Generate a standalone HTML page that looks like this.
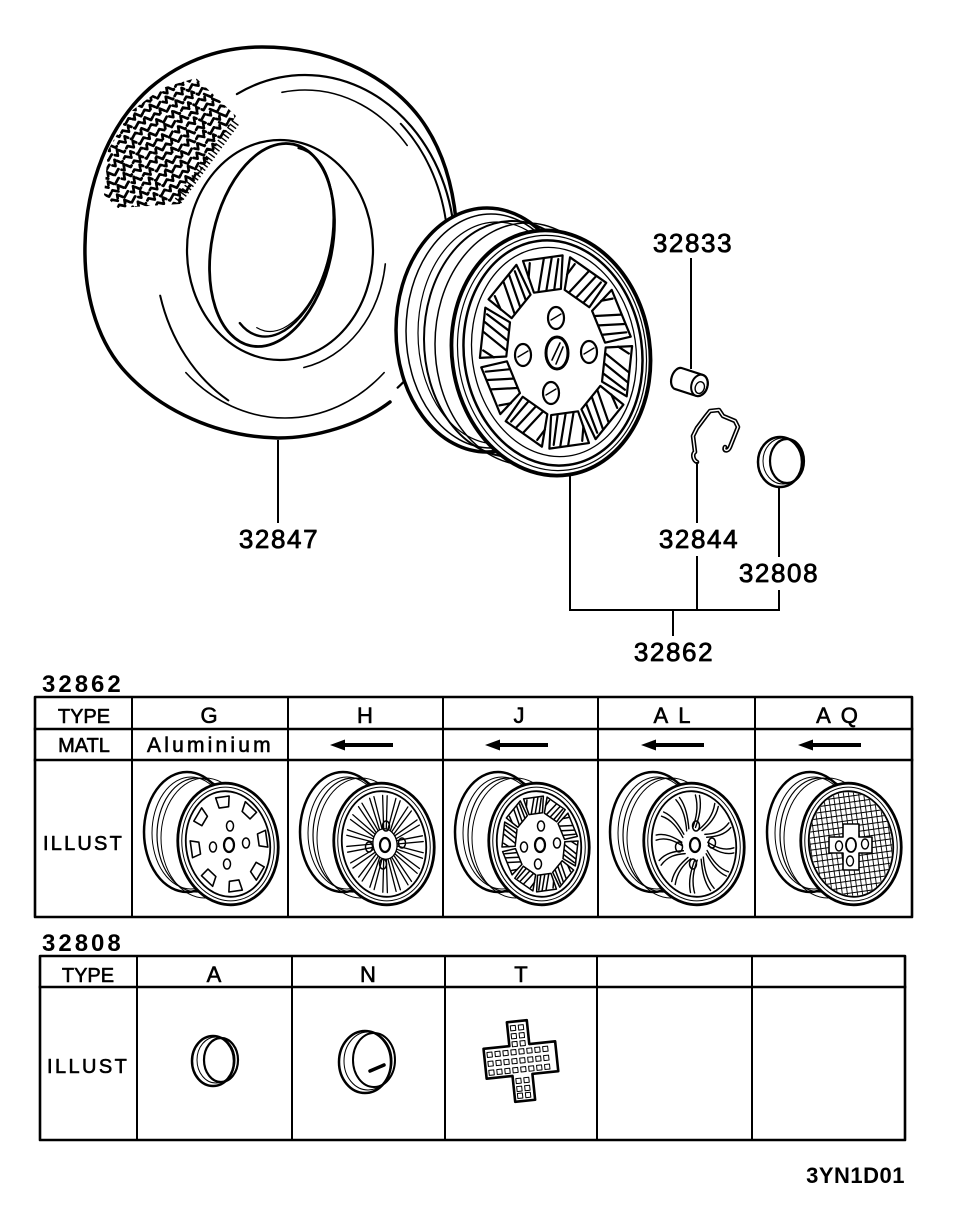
<!DOCTYPE html>
<html><head><meta charset="utf-8"><style>
html,body{margin:0;padding:0;background:#fff;}
svg{display:block;}
svg path,svg ellipse,svg line,svg rect{vector-effect:non-scaling-stroke;}
.t{font-family:"Liberation Sans",sans-serif;fill:#000;stroke:none;}
.n{font-size:26px;letter-spacing:1.6px;stroke:#000;stroke-width:0.8px;}
.tb{stroke:#000;stroke-width:0.6px;}
</style></head><body>
<svg width="960" height="1210" viewBox="0 0 960 1210" xmlns="http://www.w3.org/2000/svg" fill="none" stroke="#000" stroke-linecap="round" stroke-linejoin="round">
<defs>
  <path id="zz" d="M-100,0 l6,-4 l5,4 l2,-6 l5,6 l6,-4 l5,4 l2,-6 l5,6 l6,-4 l5,4 l2,-6 l5,6 l6,-4 l5,4 l2,-6 l5,6 l6,-4 l5,4 l2,-6 l5,6 l6,-4 l5,4 l2,-6 l5,6 l6,-4 l5,4 l2,-6 l5,6 l6,-4 l5,4 l2,-6 l5,6 l6,-4 l5,4 l2,-6 l5,6 l6,-4 l5,4 l2,-6 l5,6"/>
  <clipPath id="tread"><polygon points="104,195 108,150 130,112 162,88 196,78 236,116 180,204 118,208"/></clipPath>
  <g id="win"><path d="M-17,-60 L17,-60 L25,-92 L-25,-92 Z"/><path d="M-11,-61 L1,-91 M-1,-61 L11,-91 M9,-61 L19,-89 M-21,-75 L-17,-89"/></g>
  <g id="win10">
    <use href="#win"/><use href="#win" transform="rotate(36)"/><use href="#win" transform="rotate(72)"/><use href="#win" transform="rotate(108)"/><use href="#win" transform="rotate(144)"/><use href="#win" transform="rotate(180)"/><use href="#win" transform="rotate(216)"/><use href="#win" transform="rotate(252)"/><use href="#win" transform="rotate(288)"/><use href="#win" transform="rotate(324)"/>
  </g>
  <g id="twbase">
    <ellipse cx="55" cy="72" rx="43" ry="60" fill="#fff" stroke-width="2.5"/>
    <ellipse cx="59" cy="73" rx="39" ry="56" stroke-width="1"/>
    <ellipse cx="65" cy="75" rx="40" ry="57" stroke-width="1.2"/>
    <ellipse cx="73" cy="78" rx="44" ry="60" stroke-width="1"/>
    <ellipse cx="96" cy="84" rx="50" ry="61" transform="rotate(-8 96 84)" fill="#fff" stroke-width="2.8"/>
    <ellipse cx="96" cy="84" rx="46" ry="57" transform="rotate(-8 96 84)" stroke-width="1"/>
    <ellipse cx="96" cy="84" rx="42" ry="53" transform="rotate(-8 96 84)" stroke-width="1.8"/>
  </g>
  <g id="lugs">
    <ellipse cx="97" cy="85" rx="5" ry="7" stroke-width="2.2"/>
    <ellipse cx="98" cy="66" rx="3.5" ry="5" stroke-width="1.5"/>
    <ellipse cx="81" cy="87" rx="3.5" ry="5" stroke-width="1.5"/>
    <ellipse cx="114" cy="83" rx="3.5" ry="5" stroke-width="1.5"/>
    <ellipse cx="95" cy="104" rx="3.5" ry="5" stroke-width="1.5"/>
  </g>
  <g id="gw"><path d="M-12,-74 L12,-74 L17,-95 L-17,-95 Z"/></g>
  <g id="hs"><path d="M-2,-30 L-11,-95 M2,-30 L11,-95"/></g>
  <g id="als"><path d="M0,-32 C12,-50 22,-70 18,-95 M7,-32 C19,-50 30,-70 28,-93"/></g>
  <pattern id="grid" width="5" height="6" patternUnits="userSpaceOnUse"><path d="M0.5,0 V6 M0,0.5 H5" stroke="#000" stroke-width="0.9"/></pattern>
</defs>

<!-- ================= TIRE ================= -->
<g>
  <path d="M390,402 C360,425 315,438 278,438 C220,437 160,412 122,368 C95,336 84,290 85,245 C86,185 108,125 150,88 C185,58 225,47 262,47 C325,47 385,72 420,118 C440,145 452,180 456,220 L458,262" stroke-width="3.5"/>
  <ellipse cx="305" cy="250" rx="150" ry="175" pathLength="100" stroke-dasharray="47 53" stroke-dashoffset="32" stroke-width="2.2"/>
  <ellipse cx="305" cy="250" rx="150" ry="175" pathLength="100" stroke-dasharray="12.5 87.5" stroke-dashoffset="67" stroke-width="2"/>
  <ellipse cx="305" cy="250" rx="143" ry="170" pathLength="100" stroke-dasharray="11 89" stroke-dashoffset="14" stroke-width="2"/>
  <ellipse cx="305" cy="250" rx="135" ry="160" pathLength="100" stroke-dasharray="15.5 84.5" stroke-dashoffset="27.5" stroke-width="1.6"/>
  <ellipse cx="285" cy="250" rx="145" ry="168" pathLength="100" stroke-dasharray="22.8 77.2" stroke-dashoffset="86.4" stroke-width="1.6"/>
  <ellipse cx="280" cy="250" rx="93" ry="110" stroke-width="2.2"/>
  <ellipse cx="283" cy="250" rx="103" ry="120" pathLength="100" stroke-dasharray="20 80" stroke-dashoffset="98" stroke-width="1.6"/>
  <ellipse cx="272" cy="245" rx="60" ry="103" transform="rotate(12 272 245)" stroke-width="2.8"/>
  <ellipse cx="279" cy="242" rx="52" ry="96" transform="rotate(12 279 242)" pathLength="100" stroke-dasharray="55 45" stroke-dashoffset="25" stroke-width="2.4"/>
  <ellipse cx="284" cy="241" rx="47" ry="92" transform="rotate(12 284 241)" pathLength="100" stroke-dasharray="50 50" stroke-dashoffset="23" stroke-width="1.2"/>
  <g clip-path="url(#tread)">
    <g transform="translate(170,145) rotate(-28)" stroke-width="2.7" stroke-dasharray="10 2 7 3">
      <use href="#zz" transform="translate(0,-63)"/>
      <use href="#zz" transform="translate(-4,-55)"/>
      <use href="#zz" transform="translate(3,-47)"/>
      <use href="#zz" transform="translate(-2,-39)"/>
      <use href="#zz" transform="translate(5,-31)"/>
      <use href="#zz" transform="translate(-3,-23)"/>
      <use href="#zz" transform="translate(2,-15)"/>
      <use href="#zz" transform="translate(-5,-7)"/>
      <use href="#zz" transform="translate(1,1)"/>
      <use href="#zz" transform="translate(-3,9)"/>
      <use href="#zz" transform="translate(4,17)"/>
      <use href="#zz" transform="translate(-1,25)"/>
      <use href="#zz" transform="translate(3,33)"/>
      <use href="#zz" transform="translate(-4,41)"/>
      <use href="#zz" transform="translate(2,49)"/>
      <use href="#zz" transform="translate(-2,57)"/>
    </g>
  </g>
  <line x1="178" y1="201" x2="236" y2="122" stroke-width="8" stroke-dasharray="1.4 2.6" stroke-linecap="butt"/>
</g>

<!-- ================= MAIN WHEEL ================= -->
<g>
  <ellipse cx="487" cy="330" rx="91" ry="122" fill="#fff" stroke-width="3.5"/>
  <ellipse cx="491" cy="331" rx="85" ry="117" stroke-width="1.5"/>
  <ellipse cx="497" cy="333" rx="79" ry="111" stroke-width="1.2"/>
  <ellipse cx="512" cy="339" rx="88" ry="118" stroke-width="2"/>
  <ellipse cx="527" cy="344" rx="92" ry="121" stroke-width="1.5"/>
  <ellipse cx="551" cy="353" rx="99" ry="123" transform="rotate(-8 551 353)" fill="#fff" stroke-width="3.8"/>
  <ellipse cx="552" cy="353" rx="94" ry="118" transform="rotate(-8 552 353)" stroke-width="1.2"/>
  <ellipse cx="553" cy="353" rx="89" ry="113" transform="rotate(-8 553 353)" stroke-width="2.5"/>
  <ellipse cx="554" cy="352" rx="82" ry="105" transform="rotate(-8 554 352)" stroke-width="1.3"/>
  <g transform="translate(556,352) rotate(-8) scale(0.8,1.03)" stroke-width="2.2">
    <use href="#win10"/>
  </g>
  <ellipse cx="557" cy="353" rx="11" ry="16" stroke-width="3"/>
  <path d="M552,360 L560,343 M556,364 L563,347" stroke-width="1.6"/>
  <ellipse cx="556" cy="318" rx="8" ry="11" stroke-width="2.2"/>
  <ellipse cx="523" cy="355" rx="8" ry="11" stroke-width="2.2"/>
  <ellipse cx="589" cy="352" rx="8" ry="11" stroke-width="2.2"/>
  <ellipse cx="551" cy="393" rx="8" ry="11" stroke-width="2.2"/>
  <path d="M551,320 L561,314 M518,357 L528,351 M584,354 L594,348 M546,395 L556,389" stroke-width="1.4"/>
</g>

<!-- ================= SMALL PARTS ================= -->
<g transform="rotate(18 689 382)">
  <path d="M678,371 L700,371 A8,11 0 0 1 700,393 L678,393 A7,11 0 0 1 678,371 Z" fill="#fff" stroke-width="2.2"/>
  <ellipse cx="700" cy="382" rx="8" ry="11" stroke-width="2"/>
  <ellipse cx="701" cy="384" rx="4.5" ry="6" stroke-width="1.4"/>
</g>
<path d="M697,462 C693,460 692,454 695,452 L693,436 L697,428 L706,416 L710,411 L719,410 L723,416 L735,421 L738,427 L734,437 L730,447 C728,452 723,451 725,447" stroke-width="4.6"/>
<path d="M697,462 C693,460 692,454 695,452 L693,436 L697,428 L706,416 L710,411 L719,410 L723,416 L735,421 L738,427 L734,437 L730,447 C728,452 723,451 725,447" stroke="#fff" stroke-width="1.4"/>
<ellipse cx="780" cy="462" rx="22" ry="25" stroke-width="2.5" fill="#fff"/>
<ellipse cx="783" cy="461" rx="20" ry="23" stroke-width="1"/>
<ellipse cx="787" cy="461" rx="17" ry="22" stroke-width="2.2"/>

<!-- ================= LEADERS ================= -->
<g stroke-width="2" stroke-linecap="butt">
  <line x1="278" y1="440" x2="278" y2="523"/>
  <line x1="691" y1="258" x2="691" y2="369"/>
  <line x1="697" y1="462" x2="697" y2="523"/>
  <line x1="697" y1="556" x2="697" y2="610"/>
  <line x1="779" y1="487" x2="779" y2="557"/>
  <line x1="779" y1="590" x2="779" y2="610"/>
  <line x1="570" y1="476" x2="570" y2="610"/>
  <line x1="569" y1="610" x2="780" y2="610"/>
  <line x1="673" y1="610" x2="673" y2="636"/>
</g>
<text class="t n" x="279" y="548" text-anchor="middle">32847</text>
<text class="t n" x="693" y="252" text-anchor="middle">32833</text>
<text class="t n" x="699" y="548" text-anchor="middle">32844</text>
<text class="t n" x="779" y="582" text-anchor="middle">32808</text>
<text class="t n" x="674" y="661" text-anchor="middle">32862</text>

<!-- ================= TABLE 1 ================= -->
<text class="t" x="42" y="692" font-size="24" font-weight="bold" letter-spacing="3">32862</text>
<g stroke-linecap="square">
  <rect x="35" y="697" width="877" height="220" stroke-width="2.6"/>
  <line x1="35" y1="729" x2="912" y2="729" stroke-width="2.6"/>
  <line x1="35" y1="760" x2="912" y2="760" stroke-width="2.6"/>
  <line x1="132" y1="697" x2="132" y2="917" stroke-width="2"/>
  <line x1="288" y1="697" x2="288" y2="917" stroke-width="2"/>
  <line x1="443" y1="697" x2="443" y2="917" stroke-width="2"/>
  <line x1="598" y1="697" x2="598" y2="917" stroke-width="2"/>
  <line x1="755" y1="697" x2="755" y2="917" stroke-width="2"/>
</g>
<g class="t tb" font-size="20">
  <text x="84" y="723" text-anchor="middle">TYPE</text>
  <text x="84" y="752" text-anchor="middle">MATL</text>
  <text x="43" y="850" letter-spacing="2.2">ILLUST</text>
</g>
<g class="t tb" font-size="22">
  <text x="209" y="723" text-anchor="middle">G</text>
  <text x="365" y="723" text-anchor="middle">H</text>
  <text x="519" y="723" text-anchor="middle">J</text>
  <text x="677" y="723" text-anchor="middle" letter-spacing="10">AL</text>
  <text x="842" y="723" text-anchor="middle" letter-spacing="10">AQ</text>
  <text x="147" y="752" font-size="21" letter-spacing="3.2">Aluminium</text>
</g>
<g fill="#000" stroke="none">
  <rect x="343" y="743" width="50" height="4"/><polygon points="330,745 345,739.5 345,750.5"/>
  <rect x="498" y="743" width="50" height="4"/><polygon points="485,745 500,739.5 500,750.5"/>
  <rect x="654" y="743" width="50" height="4"/><polygon points="641,745 656,739.5 656,750.5"/>
  <rect x="811" y="743" width="50" height="4"/><polygon points="798,745 813,739.5 813,750.5"/>
</g>

<!-- G -->
<g transform="translate(132,760)">
  <use href="#twbase"/>
  <g transform="translate(97,84) rotate(-8) scale(0.4,0.5)" stroke-width="1.6">
    <use href="#gw"/><use href="#gw" transform="rotate(45)"/><use href="#gw" transform="rotate(90)"/><use href="#gw" transform="rotate(135)"/><use href="#gw" transform="rotate(180)"/><use href="#gw" transform="rotate(225)"/><use href="#gw" transform="rotate(270)"/><use href="#gw" transform="rotate(315)"/>
  </g>
  <use href="#lugs"/>
</g>
<!-- H -->
<g transform="translate(288,760)">
  <use href="#twbase"/>
  <g transform="translate(97,84) rotate(-8) scale(0.4,0.51)" stroke-width="1.3">
    <use href="#hs"/><use href="#hs" transform="rotate(20)"/><use href="#hs" transform="rotate(40)"/><use href="#hs" transform="rotate(60)"/><use href="#hs" transform="rotate(80)"/><use href="#hs" transform="rotate(100)"/><use href="#hs" transform="rotate(120)"/><use href="#hs" transform="rotate(140)"/><use href="#hs" transform="rotate(160)"/><use href="#hs" transform="rotate(180)"/><use href="#hs" transform="rotate(200)"/><use href="#hs" transform="rotate(220)"/><use href="#hs" transform="rotate(240)"/><use href="#hs" transform="rotate(260)"/><use href="#hs" transform="rotate(280)"/><use href="#hs" transform="rotate(300)"/><use href="#hs" transform="rotate(320)"/><use href="#hs" transform="rotate(340)"/>
    <ellipse cx="0" cy="0" rx="30" ry="30"/>
  </g>
  <use href="#lugs"/>
</g>
<!-- J -->
<g transform="translate(443,760)">
  <use href="#twbase"/>
  <g transform="translate(97,84) rotate(-8) scale(0.4,0.51)" stroke-width="1.5">
    <use href="#win10"/>
  </g>
  <use href="#lugs"/>
</g>
<!-- AL -->
<g transform="translate(598,760)">
  <use href="#twbase"/>
  <g transform="translate(97,84) rotate(-8) scale(0.4,0.51)" stroke-width="1.4">
    <use href="#als"/><use href="#als" transform="rotate(30)"/><use href="#als" transform="rotate(60)"/><use href="#als" transform="rotate(90)"/><use href="#als" transform="rotate(120)"/><use href="#als" transform="rotate(150)"/><use href="#als" transform="rotate(180)"/><use href="#als" transform="rotate(210)"/><use href="#als" transform="rotate(240)"/><use href="#als" transform="rotate(270)"/><use href="#als" transform="rotate(300)"/><use href="#als" transform="rotate(330)"/>
  </g>
  <use href="#lugs"/>
</g>
<!-- AQ -->
<g transform="translate(755,760)">
  <use href="#twbase"/>
  <ellipse cx="96" cy="84" rx="41" ry="52" transform="rotate(-8 96 84)" fill="url(#grid)" stroke="none"/>
  <path d="M88,64 H104 V77 H117 V93 H104 V110 H88 V93 H74 V77 H88 Z" fill="#fff" stroke-width="1.6"/>
  <ellipse cx="96" cy="85" rx="5" ry="7" stroke-width="1.8"/>
  <ellipse cx="84" cy="86" rx="3.5" ry="5" stroke-width="1.4"/>
  <ellipse cx="110" cy="84" rx="3.5" ry="5" stroke-width="1.4"/>
  <ellipse cx="95" cy="101" rx="3.5" ry="5" stroke-width="1.4"/>
</g>

<!-- ================= TABLE 2 ================= -->
<text class="t" x="42" y="951" font-size="24" font-weight="bold" letter-spacing="3">32808</text>
<g stroke-linecap="square">
  <rect x="40" y="956" width="865" height="184" stroke-width="2.6"/>
  <line x1="40" y1="987" x2="905" y2="987" stroke-width="2.6"/>
  <line x1="137" y1="956" x2="137" y2="1140" stroke-width="2"/>
  <line x1="292" y1="956" x2="292" y2="1140" stroke-width="2"/>
  <line x1="445" y1="956" x2="445" y2="1140" stroke-width="2"/>
  <line x1="597" y1="956" x2="597" y2="1140" stroke-width="2"/>
  <line x1="752" y1="956" x2="752" y2="1140" stroke-width="2"/>
</g>
<g class="t tb" font-size="20">
  <text x="88" y="982" text-anchor="middle">TYPE</text>
  <text x="47" y="1073" letter-spacing="2.4">ILLUST</text>
</g>
<g class="t tb" font-size="22">
  <text x="214" y="982" text-anchor="middle">A</text>
  <text x="368" y="982" text-anchor="middle">N</text>
  <text x="521" y="982" text-anchor="middle">T</text>
</g>
<ellipse cx="213" cy="1061" rx="21" ry="25" fill="#fff" stroke-width="2.5"/>
<ellipse cx="216" cy="1060" rx="19" ry="23" stroke-width="1"/>
<ellipse cx="221" cy="1060" rx="17" ry="22" stroke-width="2.2"/>
<ellipse cx="365" cy="1062" rx="26" ry="31" fill="#fff" stroke-width="2.5"/>
<ellipse cx="368" cy="1061" rx="24" ry="29" stroke-width="1"/>
<ellipse cx="374" cy="1060" rx="21" ry="27" stroke-width="2"/>
<path d="M370,1071 L384,1065" stroke-width="3.5"/>
<g transform="translate(521,1061) rotate(-6)">
  <path d="M-10,-40 H10 V-16 H36 V14 H10 V40 H-10 V14 H-36 V-16 H-10 Z" stroke-width="2.6" fill="#fff"/>
  <g stroke-width="1">
    <rect x="-7" y="-36" width="5" height="5"/><rect x="1" y="-36" width="5" height="5"/>
    <rect x="-7" y="-28" width="5" height="5"/><rect x="1" y="-28" width="5" height="5"/>
    <rect x="-7" y="-20" width="5" height="5"/><rect x="1" y="-20" width="5" height="5"/>
    <rect x="-33" y="-12" width="5" height="5"/><rect x="-25" y="-12" width="5" height="5"/><rect x="-17" y="-12" width="5" height="5"/><rect x="-9" y="-12" width="5" height="5"/><rect x="-1" y="-12" width="5" height="5"/><rect x="7" y="-12" width="5" height="5"/><rect x="15" y="-12" width="5" height="5"/><rect x="23" y="-12" width="5" height="5"/>
    <rect x="-33" y="-3" width="5" height="5"/><rect x="-25" y="-3" width="5" height="5"/><rect x="-17" y="-3" width="5" height="5"/><rect x="-9" y="-3" width="5" height="5"/><rect x="-1" y="-3" width="5" height="5"/><rect x="7" y="-3" width="5" height="5"/><rect x="15" y="-3" width="5" height="5"/><rect x="23" y="-3" width="5" height="5"/>
    <rect x="-33" y="6" width="5" height="5"/><rect x="-25" y="6" width="5" height="5"/><rect x="-17" y="6" width="5" height="5"/><rect x="-9" y="6" width="5" height="5"/><rect x="-1" y="6" width="5" height="5"/><rect x="7" y="6" width="5" height="5"/><rect x="15" y="6" width="5" height="5"/><rect x="23" y="6" width="5" height="5"/>
    <rect x="-7" y="17" width="5" height="5"/><rect x="1" y="17" width="5" height="5"/>
    <rect x="-7" y="25" width="5" height="5"/><rect x="1" y="25" width="5" height="5"/>
    <rect x="-7" y="32" width="5" height="5"/><rect x="1" y="32" width="5" height="5"/>
  </g>
</g>

<text class="t" x="905" y="1183" text-anchor="end" font-size="22" font-weight="bold" letter-spacing="0.5">3YN1D01</text>
</svg>
</body></html>
